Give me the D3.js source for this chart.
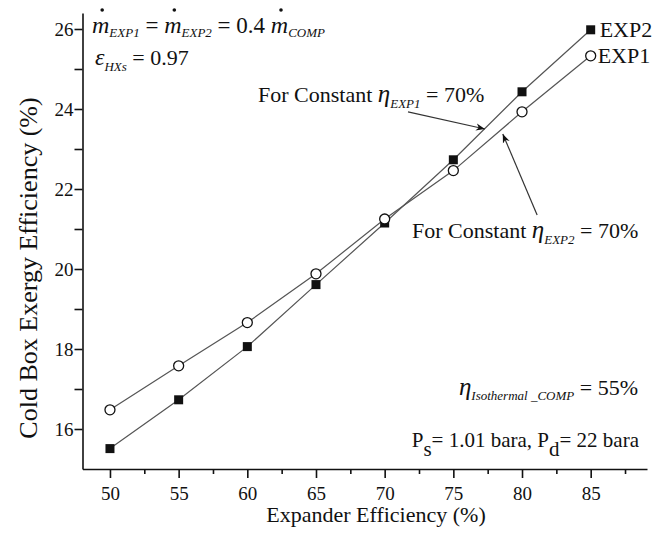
<!DOCTYPE html>
<html><head><meta charset="utf-8">
<script src="https://cdn.jsdelivr.net/npm/d3@7/dist/d3.min.js"></script>
<style>body{margin:0;background:#fff}svg{display:block}text{font-family:"Liberation Serif","Times New Roman",serif;fill:#111}</style>
</head><body><svg id="c" width="665" height="534"></svg>
<script>
const expanderEff = [50, 55, 60, 65, 70, 75, 80, 85];
const exp1 = [16.48, 17.58, 18.66, 19.88, 21.25, 22.46, 23.93, 25.33];
const exp2 = [15.51, 16.73, 18.06, 19.61, 21.15, 22.73, 24.43, 25.98];
const xMajorTicks = [50, 55, 60, 65, 70, 75, 80, 85];
const xMinorTicks = [52.5, 57.5, 62.5, 67.5, 72.5, 77.5, 82.5, 87.5];
const yMajorTicks = [16, 18, 20, 22, 24, 26];
const yMinorTicks = [17, 19, 21, 23, 25];
const seriesNames = ["EXP1", "EXP2"];

const svg = d3.select("#c");
const x = d3.scaleLinear().domain([48, 89.1]).range([82.5, 647]);
const y = d3.scaleLinear().domain([15, 26.4]).range([469, 13]);
const ink = "#111";

// axes
const xAxis = svg.append("g").attr("transform", `translate(0,${y(15)})`)
  .call(d3.axisBottom(x).tickValues(xMajorTicks).tickSize(9).tickSizeOuter(0).tickFormat(d3.format("d")));
svg.append("g").attr("transform", `translate(0,${y(15)})`)
  .call(d3.axisBottom(x).tickValues(xMinorTicks).tickSize(5).tickSizeOuter(0).tickFormat(""))
  .select(".domain").remove();
const yAxis = svg.append("g").attr("transform", `translate(${x(48)},0)`)
  .call(d3.axisLeft(y).tickValues(yMajorTicks).tickSize(8).tickSizeOuter(0).tickFormat(d3.format("d")));
svg.append("g").attr("transform", `translate(${x(48)},0)`)
  .call(d3.axisLeft(y).tickValues(yMinorTicks).tickSize(8).tickSizeOuter(0).tickFormat(""))
  .select(".domain").remove();
svg.selectAll(".domain, .tick line").attr("stroke", ink).attr("stroke-width", 1.6);
svg.selectAll(".tick text").attr("font-family", "Liberation Serif").attr("font-size", 19).attr("fill", ink);
xAxis.selectAll(".tick text").attr("dy", "1.0em");
yAxis.selectAll(".tick text").attr("dx", "0.1em");

// axis titles
svg.append("text").attr("x", 376).attr("y", 522).attr("text-anchor", "middle").attr("font-size", 22).text("Expander Efficiency (%)");
svg.append("text").attr("transform", "translate(37,268) rotate(-90)").attr("text-anchor", "middle").attr("font-size", 26).text("Cold Box Exergy Efficiency (%)");

// lines + markers
const line = d3.line().x((d, i) => x(expanderEff[i])).y(d => y(d));
[exp1, exp2].forEach(s => svg.append("path").attr("d", line(s)).attr("fill", "none").attr("stroke", "#555").attr("stroke-width", 1.2));
svg.selectAll(".sq").data(exp2).join("rect")
  .attr("x", (d, i) => x(expanderEff[i]) - 4.5).attr("y", d => y(d) - 4.5)
  .attr("width", 9).attr("height", 9).attr("fill", ink);
svg.selectAll(".ci").data(exp1).join("circle")
  .attr("cx", (d, i) => x(expanderEff[i])).attr("cy", d => y(d)).attr("r", 5)
  .attr("fill", "#fff").attr("stroke", ink).attr("stroke-width", 1.3);

// series labels
svg.append("text").attr("x", x(85) + 9).attr("y", y(exp2[7]) + 7).attr("font-size", 22).text(seriesNames[1]);
svg.append("text").attr("x", x(85) + 7).attr("y", y(exp1[7]) + 7).attr("font-size", 22).text(seriesNames[0]);

// rich text helper
function rich(x0, y0, segs, anchorEnd) {
  const g = svg.append("g");
  let cx = 0; const marks = [];
  segs.forEach(s => {
    const t = g.append("text").attr("x", cx).attr("y", s.dy || 0)
      .attr("font-size", s.size || 22).attr("font-style", s.it ? "italic" : "normal")
      .attr("xml:space", "preserve").style("white-space", "pre").text(s.t);
    const w = t.node().getComputedTextLength();
    if (s.dot) marks.push(cx + w / 2 + 1.5);
    cx += w;
  });
  const ox = anchorEnd ? x0 - cx : x0;
  g.attr("transform", `translate(${ox},${y0})`);
  return marks.map(m => m + ox);
}
const dots = rich(92, 33, [
  {t: "m", it: 1, size: 24, dot: 1}, {t: "EXP1", it: 1, size: 13, dy: 4},
  {t: " = ", size: 23}, {t: "m", it: 1, size: 24, dot: 1}, {t: "EXP2", it: 1, size: 13, dy: 4},
  {t: " = 0.4 ", size: 23}, {t: "m", it: 1, size: 24, dot: 1}, {t: "COMP", it: 1, size: 13, dy: 4}
]);
dots.forEach(dx => svg.append("circle").attr("cx", dx).attr("cy", 10).attr("r", 1.8).attr("fill", ink));
rich(95, 65, [{t: "ε", it: 1, size: 24}, {t: "HXs", it: 1, size: 13, dy: 6}, {t: " = 0.97", size: 22}]);

rich(258, 102, [{t: "For Constant ", size: 22}, {t: "η", it: 1, size: 25}, {t: "EXP1", it: 1, size: 13, dy: 6}, {t: " = 70%", size: 22}]);
rich(412, 238, [{t: "For Constant ", size: 22}, {t: "η", it: 1, size: 25}, {t: "EXP2", it: 1, size: 13, dy: 6}, {t: " = 70%", size: 22}]);
rich(638, 395, [{t: "η", it: 1, size: 25}, {t: "Isothermal _COMP", it: 1, size: 13, dy: 5}, {t: " = 55%", size: 22}], true);
rich(639, 447, [{t: "P", size: 21}, {t: "s", size: 21, dy: 9}, {t: "= 1.01 bara, P", size: 21}, {t: "d", size: 21, dy: 9}, {t: "= 22 bara", size: 21}], true);

// arrows (data coordinates)
const defs = svg.append("defs");
defs.append("marker").attr("id", "ah").attr("viewBox", "0 0 10 10").attr("refX", 10).attr("refY", 5)
  .attr("markerWidth", 9).attr("markerHeight", 9).attr("markerUnits", "userSpaceOnUse").attr("orient", "auto")
  .append("path").attr("d", "M0,1 L10,5 L0,9 L3,5 Z").attr("fill", ink);
const arrows = [
  {from: [71.7, 23.93], to: [77.3, 23.5]},
  {from: [81.1, 21.35], to: [78.6, 23.375]}
];
arrows.forEach(a => svg.append("line")
  .attr("x1", x(a.from[0])).attr("y1", y(a.from[1])).attr("x2", x(a.to[0])).attr("y2", y(a.to[1]))
  .attr("stroke", "#333").attr("stroke-width", 1.2).attr("marker-end", "url(#ah)"));
</script></body></html>
